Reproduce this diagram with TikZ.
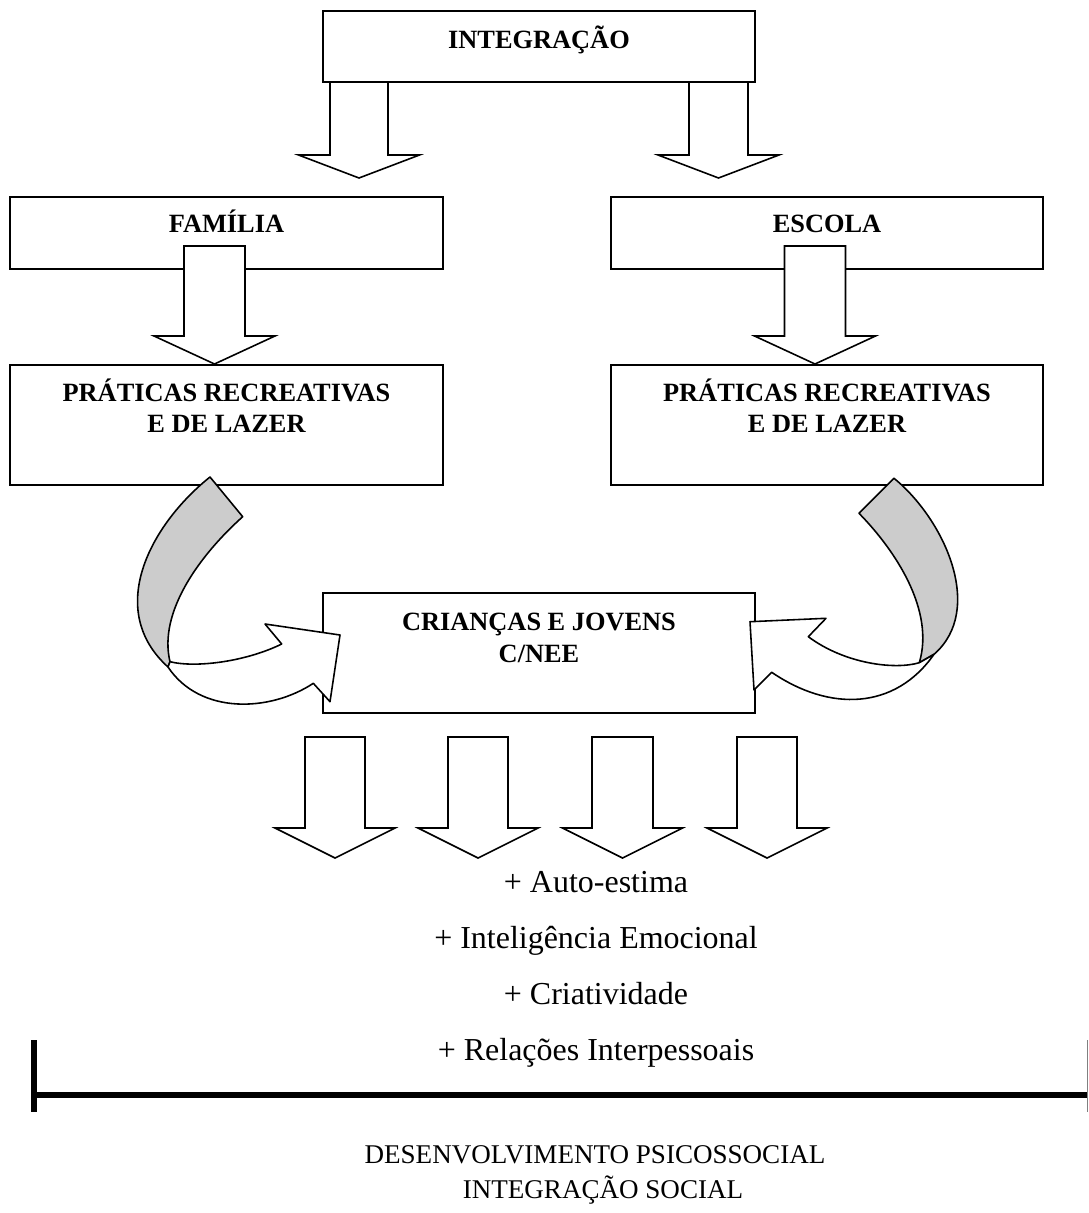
\documentclass[tikz,border=0pt]{standalone}
\usepackage{fontspec}
\setmainfont{Liberation Serif}
\begin{document}
\begin{tikzpicture}[x=0.02cm,y=-0.02cm,
  box/.style={draw, line width=1.1pt, fill=white, inner sep=0pt, outer sep=0pt, anchor=north west},
  btxt/.style={font=\fontsize{15}{18}\selectfont\bfseries, inner sep=0pt, anchor=base},
  ltxt/.style={font=\fontsize{18.2}{22}\selectfont, inner sep=0pt, anchor=base},
  stxt/.style={font=\fontsize{15.4}{18}\selectfont, inner sep=0pt, anchor=base},
  blk/.style={draw, line width=0.9pt, fill=white, line join=miter},
  band/.style={draw, line width=0.9pt, fill=gray!40, line join=round}]
\useasboundingbox (0,0) rectangle (1088,1213);
\newcommand\dnarrow[6]{%
  \draw[blk] ({#1-#5},#2) -- ({#1-#5},#3) -- ({#1-#6},#3) -- (#1,#4) -- ({#1+#6},#3) -- ({#1+#5},#3) -- ({#1+#5},#2) -- cycle;}

% boxes
\node[box, minimum width=8.64cm, minimum height=1.42cm] (integ) at (323,11) {};
\node[box, minimum width=8.66cm, minimum height=1.44cm] (fam) at (10,197) {};
\node[box, minimum width=8.64cm, minimum height=1.44cm] (esc) at (611,197) {};
\node[box, minimum width=8.66cm, minimum height=2.4cm] (pratL) at (10,365) {};
\node[box, minimum width=8.64cm, minimum height=2.4cm] (pratR) at (611,365) {};
\node[box, minimum width=8.64cm, minimum height=2.4cm] (crian) at (323,593) {};

% block arrows
\dnarrow{359}{82}{155}{178}{29}{60.5}
\dnarrow{718.5}{82}{155}{178}{29.5}{60.5}
\dnarrow{214.5}{246}{336}{364}{30.5}{60.5}
\dnarrow{815}{246}{336}{364}{30.5}{60.5}
\dnarrow{335}{737}{828}{858}{30}{60}
\dnarrow{478}{737}{828}{858}{30}{60}
\dnarrow{622.5}{737}{828}{858}{30.5}{60}
\dnarrow{767}{737}{828}{858}{30}{60}

% texts in boxes
\node[btxt] (tInteg) at (539,49) {INTEGRAÇÃO};
\node[btxt] (tFam) at (226.5,233) {FAMÍLIA};
\node[btxt] (tEsc) at (827,233) {ESCOLA};
\node[btxt] (tPL1) at (226.5,401) {PRÁTICAS RECREATIVAS};
\node[btxt] (tPL2) at (226.5,432) {E DE LAZER};
\node[btxt] (tPR1) at (827,401) {PRÁTICAS RECREATIVAS};
\node[btxt] (tPR2) at (827,432) {E DE LAZER};
\node[btxt] (tC1) at (539,630) {CRIANÇAS E JOVENS};
\node[btxt] (tC2) at (539,662) {C/NEE};

% curved arrow left
\draw[band] (210,477) .. controls (150,525) and (105,610) .. (168,667) -- (170,661.7)
  .. controls (158,612) and (200,555) .. (242.7,516.7) -- cycle;
\draw[blk, line join=round] (170,661.7) .. controls (195,668) and (245,662) .. (281.7,644)
  -- (265,624) -- (340,635) -- (330,701.7) -- (313.3,683.3)
  .. controls (270,712) and (200,715) .. (168,667) -- cycle;

% curved arrow right
\draw[band] (894,478.3) .. controls (945,520) and (985,610) .. (934,654.3) -- (919.3,662.7)
  .. controls (935,610) and (895,550) .. (859,513.3) -- cycle;
\draw[blk, line join=round] (919.3,662.7) .. controls (895,670) and (845,664) .. (808.3,636.7)
  -- (826,618.3) -- (750,621.7) -- (754,690) -- (771.7,672.3)
  .. controls (830,712) and (895,710) .. (934,654.3) -- cycle;

% list
\node[ltxt] (l1) at (596,892) {+ Auto-estima};
\node[ltxt] (l2) at (596,948) {+ Inteligência Emocional};
\node[ltxt] (l3) at (596,1004) {+ Criatividade};
\node[ltxt] (l4) at (596,1060) {+ Relações Interpessoais};

% bracket line
\coordinate (bl) at (34,1095);
\coordinate (br) at (1088,1095);
\coordinate (blt) at (34,1040);
\coordinate (blb) at (34,1112);
\coordinate (brt) at (1087.3,1040);
\coordinate (brb) at (1087.3,1112);
\draw[line width=3.4pt] (bl) -- (br);
\draw[line width=3.4pt] (blt) -- (blb);
\draw[gray, line width=0.6pt] (brt) -- (brb);

\node[stxt] (d1) at (595,1163) {DESENVOLVIMENTO PSICOSSOCIAL};
\node[stxt] (d2) at (603,1198) {INTEGRAÇÃO SOCIAL};
\end{tikzpicture}
\end{document}
